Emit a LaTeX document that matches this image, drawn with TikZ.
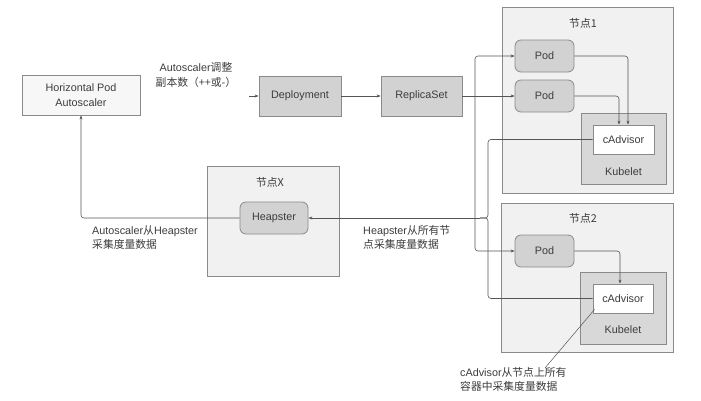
\documentclass[tikz,border=0pt]{standalone}
\usepackage{fontspec}
\setmainfont{Liberation Sans}
\newfontfamily\cjk{Noto Sans CJK SC}
\usetikzlibrary{arrows.meta}
\definecolor{nodebg}{HTML}{F1F1F1}
\definecolor{boxgray}{HTML}{D2D2D2}
\definecolor{kubgray}{HTML}{D8D8D8}
\definecolor{linec}{HTML}{555555}
\definecolor{borderc}{HTML}{8A8A8A}
\definecolor{txt}{HTML}{3C3C3C}
\tikzset{
  every node/.style={font=\fontsize{10.8}{14.5}\selectfont, text=txt},
  plainbox/.style={draw=borderc, line width=0.8pt, inner sep=0pt},
  hostbox/.style={plainbox, fill=nodebg},
  graybox/.style={plainbox, fill=boxgray},
  podbox/.style={plainbox, fill=boxgray, rounded corners=6pt},
  kubbox/.style={plainbox, fill=kubgray},
  cadbox/.style={plainbox, fill=white},
  conn/.style={draw=linec, line width=0.6pt, rounded corners=3pt},
  arr/.style={conn, -{Stealth[length=4pt,width=3pt]}},
  lbl/.style={align=left, inner sep=0pt},
}
\begin{document}
\begin{tikzpicture}[x=1pt,y=-1pt]
\useasboundingbox (0,0) rectangle (701,400);
% host boxes
\node[hostbox, minimum width=132pt, minimum height=110pt] (nodeX) at (273,221) {};
\node[hostbox, minimum width=171pt, minimum height=186pt] (node1) at (587.5,100) {};
\node[hostbox, minimum width=172pt, minimum height=149pt] (node2) at (587,277.5) {};
\node (t1) at (583,23) {\cjk 节点1};
\node (t2) at (583,218) {\cjk 节点2};
\node (tX) at (270,182) {\cjk 节点X};
% main boxes
\node[plainbox, fill=white!97!black, minimum width=118pt, minimum height=40pt, align=center] (hpa) at (81,95) {Horizontal Pod\\Autoscaler};
\node[graybox, minimum width=82pt, minimum height=40pt] (dep) at (300,96) {Deployment};
\node[graybox, minimum width=81pt, minimum height=40pt] (rs) at (421.5,96) {ReplicaSet};
\node[podbox, minimum width=68pt, minimum height=32pt] (heap) at (274,218) {Heapster};
% node 1
\node[podbox, minimum width=59pt, minimum height=32pt] (pod11) at (544.5,56) {Pod};
\node[podbox, minimum width=59pt, minimum height=32pt] (pod12) at (544.5,96) {Pod};
\node[kubbox, minimum width=85pt, minimum height=71pt] (kub1) at (623.5,148.5) {};
\node (k1) at (623.5,172) {Kubelet};
\node[cadbox, minimum width=61pt, minimum height=29pt] (cad1) at (623.5,139.5) {cAdvisor};
% node 2
\node[podbox, minimum width=59pt, minimum height=32pt] (pod21) at (544.5,251) {Pod};
\node[kubbox, minimum width=86pt, minimum height=72pt] (kub2) at (623,308) {};
\node (k2) at (623,330) {Kubelet};
\node[cadbox, minimum width=60pt, minimum height=29pt] (cad2) at (623,298.5) {cAdvisor};
% labels
\node[align=center, inner sep=0pt] (l1) at (196,75) {Autoscaler{\cjk 调整}\\{\cjk 副本数（++或-）}};
\node[lbl, anchor=north west] (l2) at (92,225) {Autoscaler{\cjk 从}Heapster\\{\cjk 采集度量数据}};
\node[lbl, anchor=north west] (l3) at (363,225) {Heapster{\cjk 从所有节}\\{\cjk 点采集度量数据}};
\node[lbl, anchor=north west] (l4) at (460,367) {cAdvisor{\cjk 从节点上所有}\\{\cjk 容器中采集度量数据}};
% connectors
\coordinate (stub) at (249,96);
\draw[arr] (stub) -- (dep.west);
\draw[arr] (dep.east) -- (rs.east -| rs.west);
\draw[arr] (rs.east) -- (pod12.west);
\coordinate (bx) at (475,96);
\draw[arr] (bx) |- (pod11.west);
\draw[arr] (bx) |- (pod21.west);
\draw[arr] (pod11.east) -| ([xshift=4.5pt]cad1.north);
\draw[arr] (pod12.east) -| ([xshift=-4.5pt]cad1.north);
\draw[arr] (pod21.east) -| ([xshift=-3pt]cad2.north);
\coordinate (by) at (488,218);
\coordinate (bz) at (480,218);
\draw[conn] (cad1.west) -| (by) -- (bz);
\draw[conn] (cad2.west) -| (by) -- (bz);
\draw[arr] (bz) -- (heap.east);
\draw[arr] (heap.west) -| (hpa.south);
\coordinate (an) at (545,368);
\draw[draw=linec, line width=0.5pt] ([shift={(2pt,4pt)}]cad2.south west) -- (an);
\end{tikzpicture}
\end{document}
